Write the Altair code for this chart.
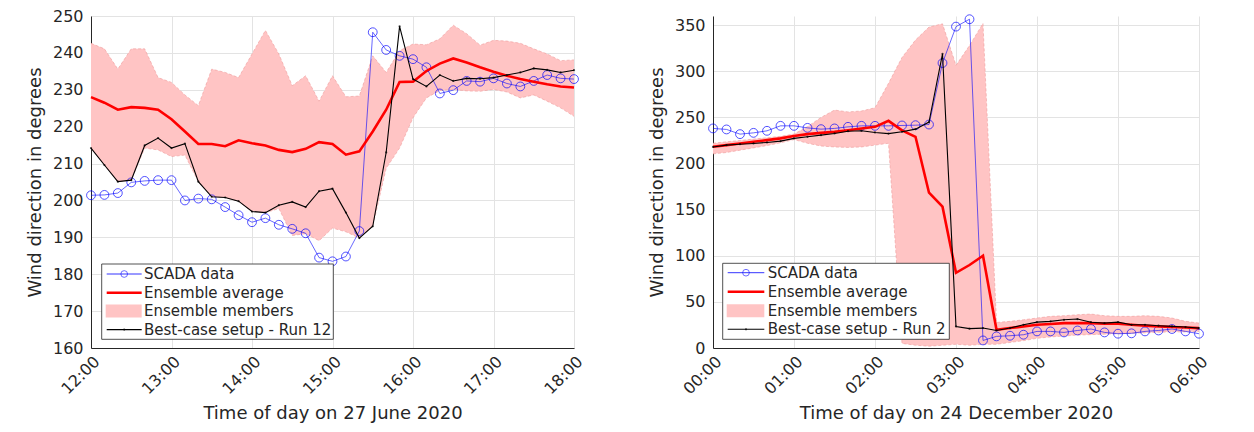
import altair as alt
import pandas as pd

# ---------------- data (10-minute samples) ----------------
# Left panel: 27 June 2020, 12:00 - 18:00
L_scada = [201.4, 201.5, 202.0, 204.9, 205.3, 205.5, 205.5, 200.0, 200.5, 200.3, 198.2, 196.0, 194.1,
           195.2, 193.4, 192.3, 191.1, 184.5, 183.5, 184.8, 191.7, 245.6, 240.8, 239.2, 238.3,
           236.1, 229.0, 229.9, 232.4, 232.2, 233.1, 231.7, 230.9, 232.4, 234.0, 233.1, 232.9]
L_avg = [228.0, 226.5, 224.6, 225.3, 225.1, 224.6, 222.0, 218.7, 215.3, 215.3, 214.7, 216.3, 215.5,
         214.9, 213.7, 213.1, 214.0, 215.8, 215.3, 212.4, 213.3, 218.7, 224.6, 232.1, 232.2,
         235.1, 237.1, 238.5, 237.4, 236.1, 234.9, 233.8, 232.9, 232.2, 231.5, 230.9, 230.6]
L_best = [214.2, 209.6, 205.1, 205.5, 214.9, 216.9, 214.2, 215.4, 205.1, 201.0, 200.8, 199.8, 197.0,
          196.7, 198.7, 199.6, 198.2, 202.5, 203.2, 196.7, 189.8, 193.0, 213.0, 247.2, 232.9,
          230.9, 234.0, 232.4, 233.1, 233.0, 233.3, 234.0, 234.7, 235.8, 235.4, 234.7, 235.3]
L_hi = [242.6, 241.1, 235.6, 241.1, 241.1, 233.3, 232.0, 228.6, 225.7, 235.6, 234.7, 233.3, 239.7,
        246.1, 239.7, 231.1, 233.8, 226.9, 233.8, 228.1, 228.3, 239.2, 234.7, 240.6, 242.4,
        242.2, 243.8, 247.5, 245.2, 242.1, 243.4, 243.2, 242.6, 241.1, 239.7, 237.9, 238.1]
L_lo = [214.2, 209.6, 205.1, 205.5, 214.2, 213.7, 211.9, 212.3, 205.1, 201.0, 200.8, 199.8, 197.0,
        196.7, 197.8, 190.5, 191.0, 189.1, 192.5, 191.5, 189.8, 193.0, 208.7, 214.2, 222.4,
        227.8, 229.8, 230.1, 229.7, 229.6, 230.1, 229.4, 227.8, 228.6, 226.9, 225.1, 222.8]

# Right panel: 24 December 2020, 00:00 - 06:00
R_scada = [238.1, 237.0, 231.9, 233.3, 235.5, 240.9, 240.9, 238.7, 237.3, 238.1, 239.8, 240.9, 240.9,
           240.9, 241.3, 241.6, 242.3, 309.0, 348.5, 356.5, 8.2, 12.6, 13.3, 14.4, 18.0,
           18.0, 16.9, 19.0, 20.6, 16.9, 15.5, 15.9, 18.0, 19.0, 20.6, 18.0, 15.5]
R_avg = [218.2, 220.0, 221.8, 223.6, 225.4, 227.3, 229.8, 231.9, 233.3, 234.4, 236.2, 238.1, 239.8,
         246.3, 236.0, 229.0, 168.4, 153.2, 81.5, 90.0, 100.0, 19.8, 21.6, 23.4, 25.2,
         26.0, 27.0, 27.0, 27.0, 26.4, 26.4, 25.2, 24.2, 23.4, 22.7, 22.3, 21.6]
R_best = [218.0, 220.0, 221.0, 221.8, 222.9, 224.3, 227.3, 229.0, 230.8, 232.6, 235.1, 235.5, 233.7,
          232.5, 234.4, 237.3, 245.0, 319.0, 23.4, 21.0, 21.6, 19.0, 21.6, 25.2, 28.1,
          28.9, 30.6, 31.4, 28.0, 27.0, 28.0, 25.2, 25.2, 24.2, 23.4, 22.7, 21.6]
R_hi = [222.0, 223.6, 225.0, 226.5, 228.0, 229.5, 232.0, 240.0, 250.0, 258.0, 256.0, 257.0, 260.5,
        287.0, 315.0, 334.0, 348.0, 351.5, 306.5, 328.0, 352.0, 27.7, 28.9, 30.6, 32.5,
        34.3, 35.0, 36.1, 36.8, 35.0, 34.3, 34.3, 35.0, 34.3, 32.5, 28.9, 27.0]
R_lo = [210.5, 212.0, 214.5, 217.0, 219.5, 222.5, 226.0, 222.0, 219.0, 218.0, 217.5, 218.0, 220.0,
        222.0, 5.0, 3.0, 2.0, 3.0, 4.0, 3.0, 4.0, 4.0, 6.0, 8.0, 10.5,
        12.0, 13.0, 14.0, 14.5, 15.0, 15.5, 16.0, 16.5, 17.0, 17.5, 17.5, 18.0]

LEGEND_LEFT = ["SCADA data", "Ensemble average", "Ensemble members", "Best-case setup - Run 12"]
LEGEND_RIGHT = ["SCADA data", "Ensemble average", "Ensemble members", "Best-case setup - Run 2"]

FONT = "DejaVu Sans"
TXT = "#262626"
BLUE = "#0000ff"
RED = "#ff0000"
PINK = "#ffc4c4"


def make_df(start, scada, avg, best, lo, hi):
    n = len(scada)
    return pd.DataFrame({
        "t": [start + i / 6 for i in range(n)],
        "scada": scada, "avg": avg, "best": best, "lo": lo, "hi": hi,
    })


def legend_layers(labels, box, rows, sym_x, text_x):
    one = pd.DataFrame({"k": [0]})
    b = alt.Chart(one)
    mid = (sym_x[0] + sym_x[1]) / 2
    layers = [
        b.mark_rect(fill="white", stroke=TXT, strokeWidth=0.8).encode(
            x=alt.value(box[0]), x2=alt.value(box[1]), y=alt.value(box[2]), y2=alt.value(box[3])),
        b.mark_rule(color=BLUE, strokeWidth=0.8).encode(
            x=alt.value(sym_x[0]), x2=alt.value(sym_x[1]), y=alt.value(rows[0])),
        b.mark_point(shape="circle", size=45, color=BLUE, filled=False, strokeWidth=0.8).encode(
            x=alt.value(mid), y=alt.value(rows[0])),
        b.mark_rule(color=RED, strokeWidth=2.6).encode(
            x=alt.value(sym_x[0]), x2=alt.value(sym_x[1]), y=alt.value(rows[1])),
        b.mark_rect(fill=PINK).encode(
            x=alt.value(sym_x[0] - 1), x2=alt.value(sym_x[1]),
            y=alt.value(rows[2] - 6.5), y2=alt.value(rows[2] + 6.5)),
        b.mark_rule(color="black", strokeWidth=1.1).encode(
            x=alt.value(sym_x[0]), x2=alt.value(sym_x[1]), y=alt.value(rows[3])),
        b.mark_point(shape="circle", size=5, color="black", filled=True).encode(
            x=alt.value(mid), y=alt.value(rows[3])),
    ]
    for lab, ry in zip(labels, rows):
        layers.append(
            b.mark_text(align="left", baseline="middle", fontSize=15, font=FONT, color=TXT).encode(
                x=alt.value(text_x), y=alt.value(ry), text=alt.value(lab)))
    return layers


def panel(df, xdom, ydom, yticks, xtitle, labels, box, rows, sym_x, text_x, width, height):
    xaxis = alt.Axis(values=list(range(xdom[0], xdom[1] + 1)),
                     labelExpr="format(datum.value, '02d') + ':00'",
                     title=xtitle, labelAngle=315, labelAlign="right", labelBaseline="top",
                     labelFlush=False, ticks=False, labelPadding=5, titlePadding=8)
    yaxis = alt.Axis(values=yticks, title="Wind direction in degrees", ticks=False,
                     labelPadding=8, titlePadding=8)
    X = alt.X("t:Q", scale=alt.Scale(domain=list(xdom), nice=False, zero=False), axis=xaxis)

    def Y(field):
        return alt.Y(f"{field}:Q", scale=alt.Scale(domain=list(ydom), nice=False, zero=False),
                     axis=yaxis)

    base = alt.Chart(df)
    band = base.mark_area(color=PINK, opacity=1).encode(x=X, y=Y("hi"), y2="lo:Q")
    edge_hi = base.mark_line(color="#ee9a9a", strokeWidth=0.6, strokeDash=[3, 2]).encode(x=X, y=Y("hi"))
    edge_lo = base.mark_line(color="#ee9a9a", strokeWidth=0.6, strokeDash=[3, 2]).encode(x=X, y=Y("lo"))
    scada_l = base.mark_line(color=BLUE, strokeWidth=0.7, opacity=0.85).encode(x=X, y=Y("scada"))
    scada_p = base.mark_point(shape="circle", size=78, color=BLUE, filled=False,
                              strokeWidth=0.8, opacity=0.85).encode(x=X, y=Y("scada"))
    avg_l = base.mark_line(color=RED, strokeWidth=2.6).encode(x=X, y=Y("avg"))
    best_l = base.mark_line(color="black", strokeWidth=1.1).encode(x=X, y=Y("best"))
    best_p = base.mark_point(shape="circle", size=5, color="black", filled=True).encode(x=X, y=Y("best"))

    layers = [band, edge_hi, edge_lo, scada_l, scada_p, avg_l, best_l, best_p]
    layers += legend_layers(labels, box, rows, sym_x, text_x)
    return alt.layer(*layers).properties(width=width, height=height)


H = 332
left = panel(make_df(12, L_scada, L_avg, L_best, L_lo, L_hi), (12, 18), (160, 250),
             list(range(160, 251, 10)), "Time of day on 27 June 2020", LEGEND_LEFT,
             box=(10.7, 242.3, 248, 323.3), rows=[258, 276.7, 295, 313.6],
             sym_x=(15.7, 50.7), text_x=53, width=483, height=H)
right = panel(make_df(0, R_scada, R_avg, R_best, R_lo, R_hi), (0, 6), (0, 360),
              list(range(0, 351, 50)), "Time of day on 24 December 2020", LEGEND_RIGHT,
              box=(9.7, 236.3, 247.3, 323.3), rows=[256.7, 275.7, 294.7, 313.3],
              sym_x=(14.7, 51.3), text_x=54.7, width=486, height=H)

chart = alt.hconcat(left, right, spacing=62).properties(
    padding={"left": 18, "top": 0, "right": 5, "bottom": 0}
).configure_axis(
    labelFont=FONT, labelFontSize=16, labelColor=TXT,
    titleFont=FONT, titleFontSize=18, titleFontWeight="normal", titleColor=TXT,
    domainColor=TXT, domainWidth=1, gridColor="#e3e3e3", gridWidth=1,
).configure_view(stroke=None)

chart.save("out.html", embed_options={"renderer": "svg", "actions": False})
